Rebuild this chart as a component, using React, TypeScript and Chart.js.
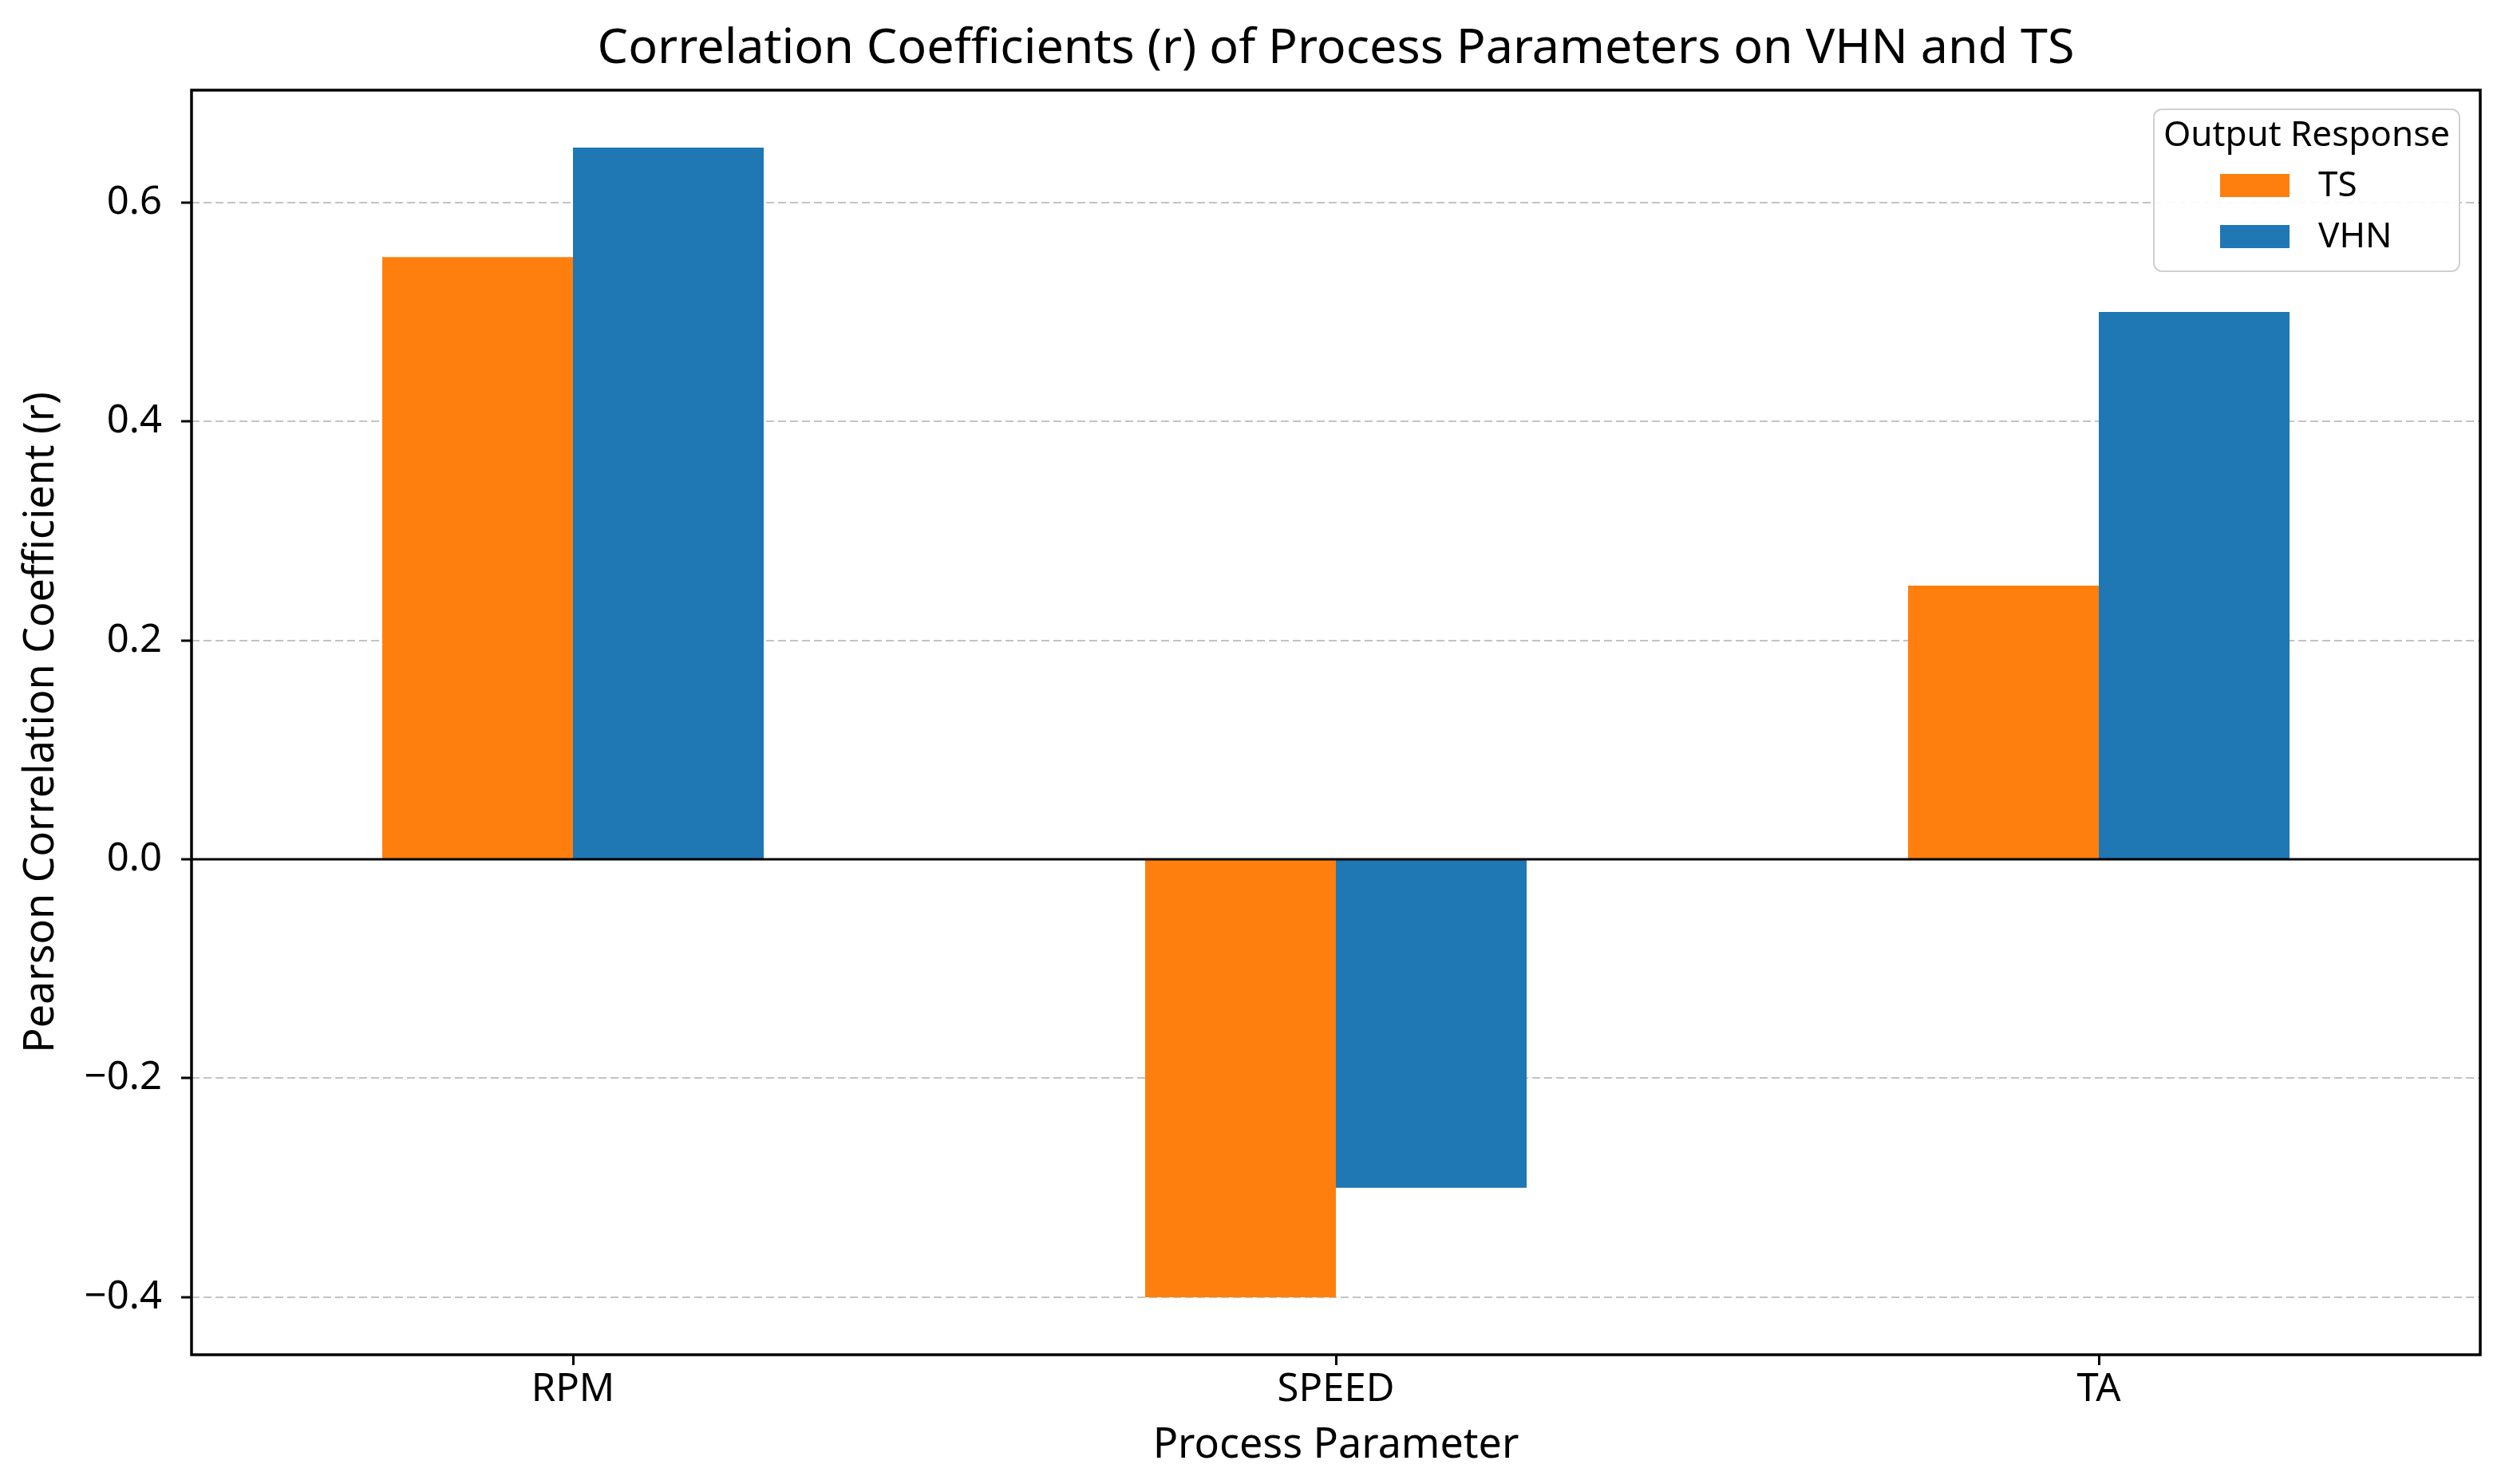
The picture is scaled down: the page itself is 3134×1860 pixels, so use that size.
import React, { useEffect, useRef } from 'react';
import { Chart, registerables } from 'chart.js';

Chart.register(...registerables);

// ---- data ----
const categories = ['RPM', 'SPEED', 'TA'];
const seriesLabels = ['TS', 'VHN'];
const tsValues = [0.55, -0.4, 0.25];
const vhnValues = [0.65, -0.3, 0.5];
const seriesColors = ['#ff7f0e', '#1f77b4'];
const yTickValues = [-0.4, -0.2, 0.0, 0.2, 0.4, 0.6];
const yMin = -0.4525;
const yMax = 0.7025;
const titleText = 'Correlation Coefficients (r) of Process Parameters on VHN and TS';
const xTitleText = 'Process Parameter';
const yTitleText = 'Pearson Correlation Coefficient (r)';
const legendTitleText = 'Output Response';

const W = 3134;
const H = 1860;
const FONT = "'Noto Sans', 'Open Sans', sans-serif";

const fmtTick = (v: number) => {
  const s = Number(v).toFixed(1);
  return s.startsWith('-') ? '\u2212' + s.slice(1) : s;
};

// title centred over the plot area (like matplotlib's axes title)
const axesTitlePlugin = {
  id: 'axesTitle',
  afterDraw(chart: any) {
    const { ctx, chartArea } = chart;
    ctx.save();
    ctx.fillStyle = '#000';
    ctx.font = `61px ${FONT}`;
    ctx.textAlign = 'center';
    ctx.textBaseline = 'middle';
    ctx.fillText(titleText, (chartArea.left + chartArea.right) / 2, 62);
    ctx.restore();
  },
};

const frameAndZeroPlugin = {
  id: 'frameAndZero',
  afterDatasetsDraw(chart: any) {
    const { ctx, chartArea, scales } = chart;
    const { left, top, right, bottom } = chartArea;
    ctx.save();
    ctx.strokeStyle = '#000';
    ctx.setLineDash([]);
    const y0 = scales.y.getPixelForValue(0);
    ctx.lineWidth = 3;
    ctx.beginPath();
    ctx.moveTo(left, y0);
    ctx.lineTo(right, y0);
    ctx.stroke();
    ctx.lineWidth = 3.5;
    ctx.strokeRect(left, top, right - left, bottom - top);
    ctx.restore();
  },
};

const boxLegendPlugin = {
  id: 'boxLegend',
  afterDraw(chart: any) {
    const { ctx, chartArea } = chart;
    const boxW = 383;
    const boxH = 203;
    const boxRight = chartArea.right - 26;
    const boxTop = chartArea.top + 24;
    const boxLeft = boxRight - boxW;
    ctx.save();
    ctx.beginPath();
    (ctx as any).roundRect(boxLeft, boxTop, boxW, boxH, 10);
    ctx.fillStyle = 'rgba(255,255,255,0.92)';
    ctx.fill();
    ctx.lineWidth = 2;
    ctx.strokeStyle = '#d0d0d0';
    ctx.stroke();

    ctx.fillStyle = '#000';
    ctx.textBaseline = 'middle';
    ctx.textAlign = 'center';
    ctx.font = `44px ${FONT}`;
    ctx.fillText(legendTitleText, boxLeft + boxW / 2, boxTop + 33);

    ctx.textAlign = 'left';
    chart.data.datasets.forEach((ds: any, i: number) => {
      const py = boxTop + 81 + i * 64;
      ctx.fillStyle = ds.backgroundColor;
      ctx.fillRect(boxLeft + 83, py, 87, 29);
      ctx.fillStyle = '#000';
      ctx.fillText(ds.label, boxLeft + 206, py + 15);
    });
    ctx.restore();
  },
};

export default function App() {
  const canvasRef = useRef<HTMLCanvasElement | null>(null);

  useEffect(() => {
    document.body.style.margin = '0';
    document.body.style.overflow = 'hidden';
    const canvas = canvasRef.current;
    if (!canvas) return;
    const chart = new Chart(canvas, {
      type: 'bar',
      data: {
        labels: categories,
        datasets: [
          {
            label: seriesLabels[0],
            data: tsValues,
            backgroundColor: seriesColors[0],
            borderWidth: 0,
            categoryPercentage: 0.5,
            barPercentage: 1.0,
          },
          {
            label: seriesLabels[1],
            data: vhnValues,
            backgroundColor: seriesColors[1],
            borderWidth: 0,
            categoryPercentage: 0.5,
            barPercentage: 1.0,
          },
        ],
      },
      options: {
        responsive: false,
        animation: false,
        devicePixelRatio: 1,
        layout: { padding: { left: 0, right: 26, top: 113, bottom: 0 } },
        plugins: {
          legend: { display: false },
          tooltip: { enabled: false },
          title: { display: false },
        },
        scales: {
          x: {
            type: 'category',
            offset: true,
            grid: {
              display: true,
              offset: false,
              drawOnChartArea: false,
              drawTicks: true,
              tickLength: 13,
              tickWidth: 3,
              tickColor: '#000',
            },
            border: { display: false },
            ticks: {
              color: '#000',
              font: { family: FONT, size: 49 },
              padding: 2,
            },
            title: {
              display: true,
              text: xTitleText,
              color: '#000',
              font: { family: FONT, size: 52 },
              padding: { top: 0, bottom: 17 },
            },
            afterFit: (s: any) => {
              s.height = 162;
            },
          },
          y: {
            type: 'linear',
            min: yMin,
            max: yMax,
            afterBuildTicks: (s: any) => {
              s.ticks = yTickValues.map((v) => ({ value: v }));
            },
            grid: {
              color: 'rgba(175,175,175,0.75)',
              lineWidth: 2,
              drawTicks: true,
              tickLength: 13,
              tickWidth: 3,
              tickColor: '#000',
              tickBorderDash: [],
            },
            border: { display: false, dash: [10, 5] },
            ticks: {
              color: '#000',
              font: { family: FONT, size: 49 },
              padding: 24,
              callback: (v: any) => fmtTick(v),
            },
            title: {
              display: true,
              text: yTitleText,
              color: '#000',
              font: { family: FONT, size: 52 },
              padding: { top: 21, bottom: 0 },
            },
            afterFit: (s: any) => {
              s.width = 240;
            },
          },
        },
      },
      plugins: [frameAndZeroPlugin, boxLegendPlugin, axesTitlePlugin],
    } as any);
    return () => chart.destroy();
  }, []);

  return (
    <div style={{ width: W, height: H, background: '#fff' }}>
      <canvas ref={canvasRef} width={W} height={H} style={{ display: 'block', width: W, height: H }} />
    </div>
  );
}
